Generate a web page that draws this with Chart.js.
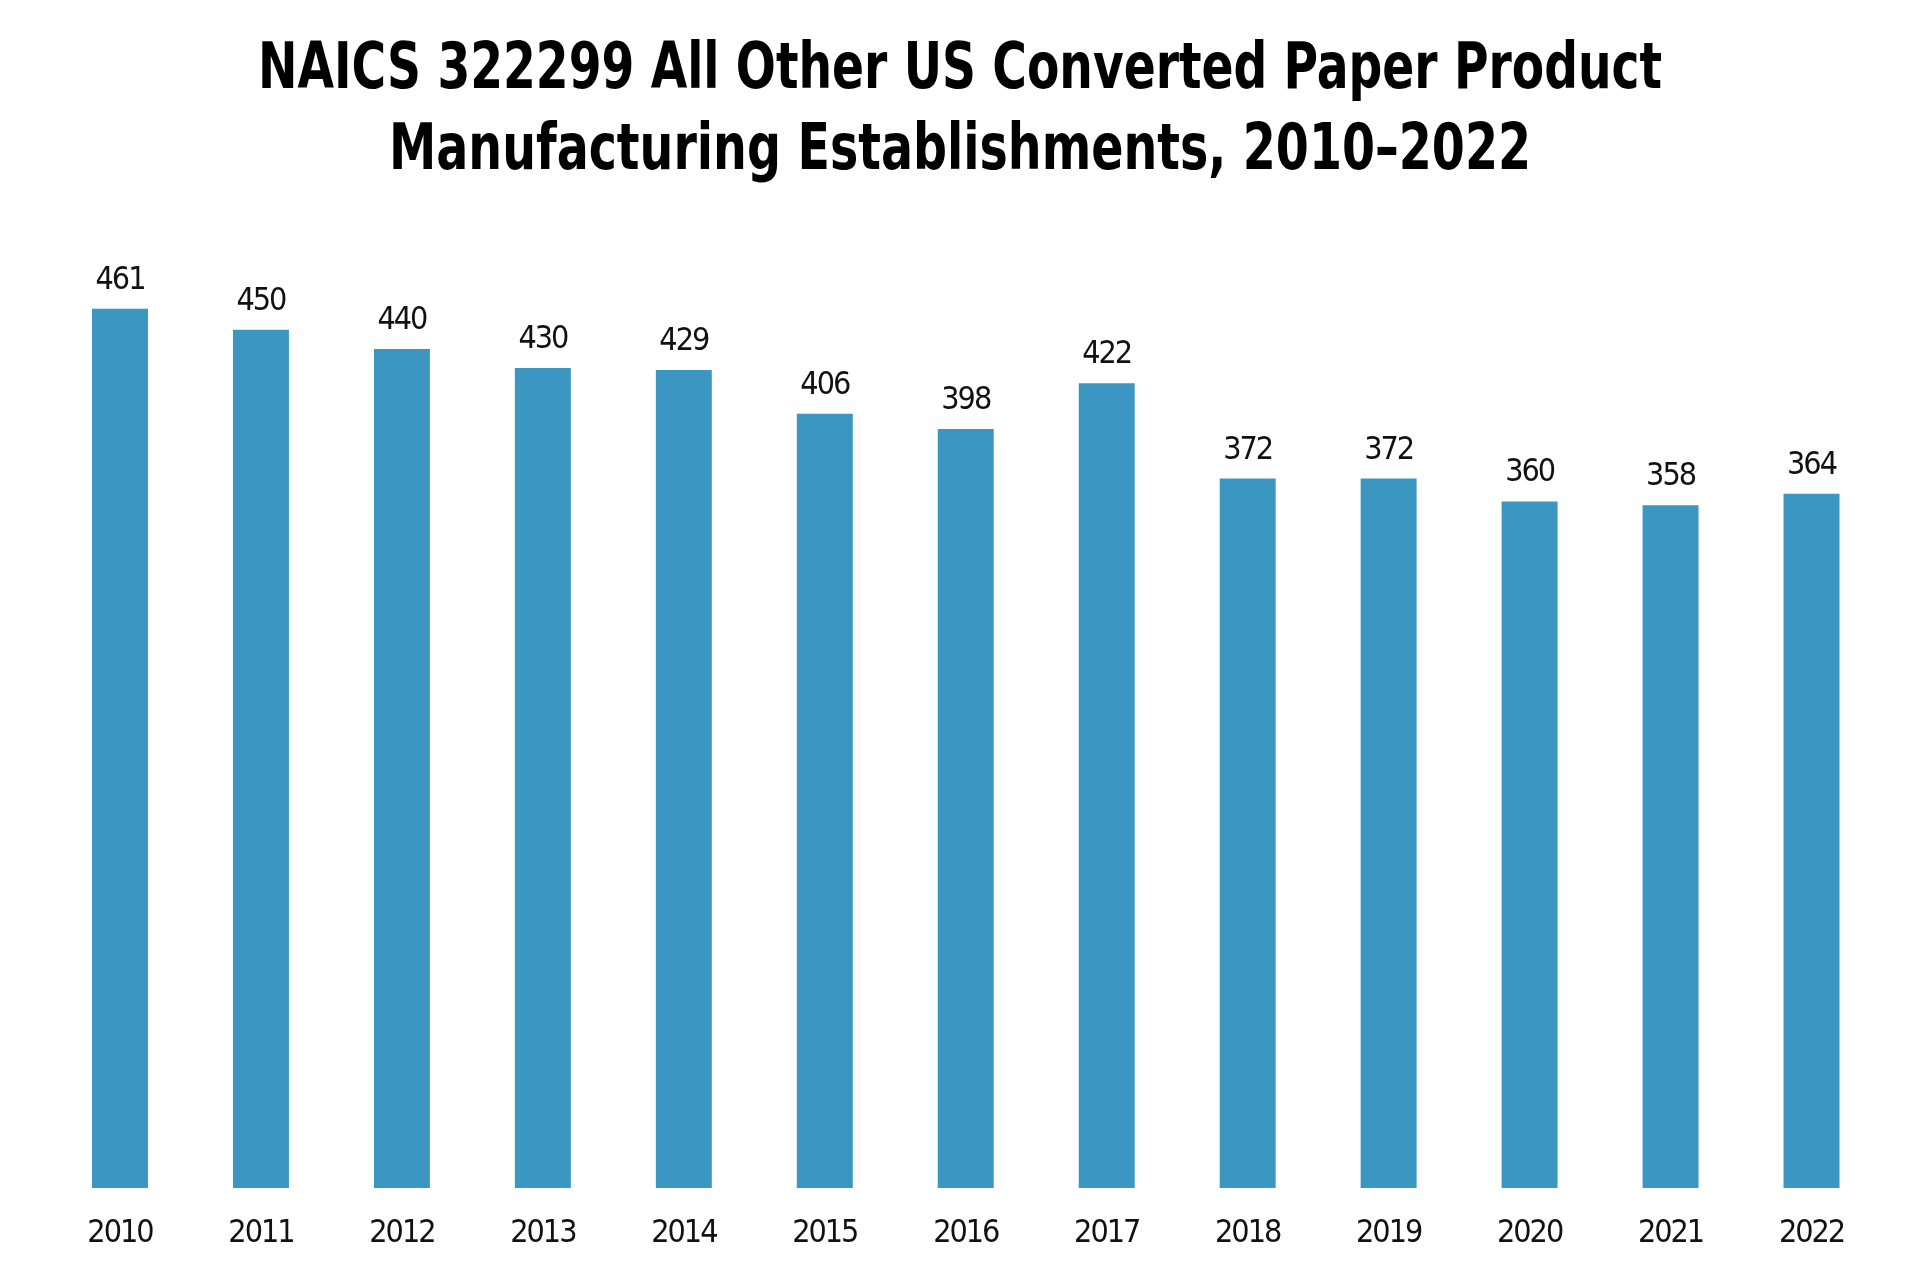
<!DOCTYPE html>
<html>
<head>
<meta charset="utf-8">
<script src="https://cdn.jsdelivr.net/npm/chart.js@4.4.0/dist/chart.umd.min.js"></script>
<style>
html,body{margin:0;padding:0;background:#fff;}
#wrap{width:1920px;height:1276px;position:relative;}
</style>
</head>
<body>
<div id="wrap"><canvas id="c" width="1920" height="1276"></canvas></div>
<script>
const titleLines = ["NAICS 322299 All Other US Converted Paper Product", "Manufacturing Establishments, 2010\u20132022"];
const years = ["2010","2011","2012","2013","2014","2015","2016","2017","2018","2019","2020","2021","2022"];
const establishments = [461,450,440,430,429,406,398,422,372,372,360,358,364];
const FONT = "'DejaVu Sans Condensed', 'Liberation Sans Narrow', sans-serif";

// condensed-looking text: tighter letter spacing for all chart text
const tightText = {
  id: 'tightText',
  beforeDraw(chart) { try { chart.ctx.letterSpacing = '-2px'; } catch (e) {} },
  afterDraw(chart) { try { chart.ctx.letterSpacing = '0px'; } catch (e) {} }
};

const valueLabels = {
  id: 'valueLabels',
  afterDatasetsDraw(chart) {
    const ctx = chart.ctx;
    const meta = chart.getDatasetMeta(0);
    ctx.save();
    try { ctx.letterSpacing = '-2px'; } catch (e) {}
    ctx.font = "32px " + FONT;
    ctx.fillStyle = "#111";
    ctx.textAlign = "center";
    ctx.textBaseline = "alphabetic";
    meta.data.forEach((bar, i) => {
      ctx.fillText(String(chart.data.datasets[0].data[i]), bar.x, bar.y - 20);
    });
    ctx.restore();
  }
};

// two-line condensed bold title
const condensedTitle = {
  id: 'condensedTitle',
  afterDraw(chart) {
    const ctx = chart.ctx;
    ctx.save();
    try { ctx.letterSpacing = '0px'; } catch (e) {}
    ctx.font = "bold 64px " + FONT;
    ctx.fillStyle = "#000";
    ctx.textAlign = "center";
    ctx.textBaseline = "alphabetic";
    const cx = chart.width / 2;
    const widths = [1404, 1142];
    const baselines = [88, 169];
    titleLines.forEach((line, i) => {
      ctx.fillText(line, cx, baselines[i], widths[i]);
    });
    ctx.restore();
  }
};

new Chart(document.getElementById('c'), {
  type: 'bar',
  data: {
    labels: years,
    datasets: [{
      data: establishments,
      backgroundColor: '#3b97c1',
      borderColor: '#3b97c1',
      borderWidth: 0,
      barPercentage: 0.397,
      categoryPercentage: 1.0
    }]
  },
  options: {
    responsive: false,
    animation: false,
    devicePixelRatio: 1,
    layout: { padding: { left: 49.5, right: 38, top: 234.5, bottom: 0 } },
    plugins: {
      legend: { display: false },
      tooltip: { enabled: false },
      title: { display: false }
    },
    scales: {
      x: {
        grid: { display: false, drawTicks: false },
        border: { display: false },
        ticks: { color: '#111', font: { family: FONT, size: 32 }, padding: 26, maxRotation: 0, autoSkip: false },
        afterFit(scale) { scale.height = 88; }
      },
      y: {
        display: false,
        min: 0,
        max: 500
      }
    }
  },
  plugins: [tightText, valueLabels, condensedTitle]
});
</script>
</body>
</html>
